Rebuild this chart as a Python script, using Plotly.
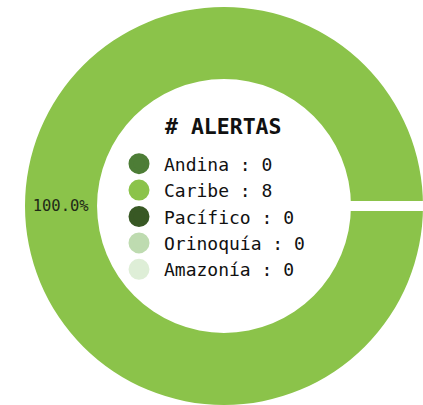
import plotly.graph_objects as go

regions = ["Andina", "Caribe", "Pacífico", "Orinoquía", "Amazonía"]
alerts = [0, 8, 0, 0, 0]
region_colors = ["#4D7D36", "#8BC34A", "#385824", "#BEDBB0", "#DEEED7"]
legend_title = "# ALERTAS"

FONT = "DejaVu Sans Mono"
W, H = 423, 405
total = sum(alerts)
pct_text = [f"{v / total * 100:.1f}%" if v else "" for v in alerts]
seam_widths = [0 if v else 10 for v in alerts]

fig = go.Figure()
fig.add_trace(go.Pie(
    labels=regions,
    values=alerts,
    marker=dict(colors=region_colors, line=dict(color="white", width=seam_widths)),
    hole=0.638,
    sort=False,
    direction="counterclockwise",
    rotation=90,
    text=pct_text,
    textinfo="text",
    textposition="inside",
    insidetextorientation="horizontal",
    textfont=dict(family=FONT, size=15.5, color="#1f2a17"),
    domain=dict(x=[25 / W, 1.0], y=[0.0, 1 - 7 / H]),
    showlegend=False,
    hoverinfo="label+value+percent",
))

for lab, v, c in zip(regions, alerts, region_colors):
    fig.add_trace(go.Scatter(
        x=[None], y=[None], mode="markers",
        name=f"{lab} : {v}",
        marker=dict(color=c, size=16, line=dict(color=c, width=5)),
        showlegend=True,
    ))

fig.add_annotation(
    text=f"<b>{legend_title}</b>",
    xref="paper", yref="paper",
    x=223 / W, y=1 - 126 / H,
    xanchor="center", yanchor="middle",
    showarrow=False,
    font=dict(family=FONT, size=21.5, color="#111111"),
)

fig.update_layout(
    width=W, height=H,
    margin=dict(l=0, r=0, t=0, b=0),
    paper_bgcolor="white",
    plot_bgcolor="white",
    xaxis=dict(visible=False),
    yaxis=dict(visible=False),
    legend=dict(
        font=dict(family=FONT, size=18, color="#111111"),
        x=114 / W, xanchor="left",
        y=1 - 145.5 / H, yanchor="top",
        bgcolor="rgba(0,0,0,0)",
        itemsizing="trace",
        itemwidth=40,
    ),
)

fig.write_html(
    "out.html",
    config={"displayModeBar": False},
    post_script="document.body.style.margin='0';document.body.style.overflow='hidden';",
)
